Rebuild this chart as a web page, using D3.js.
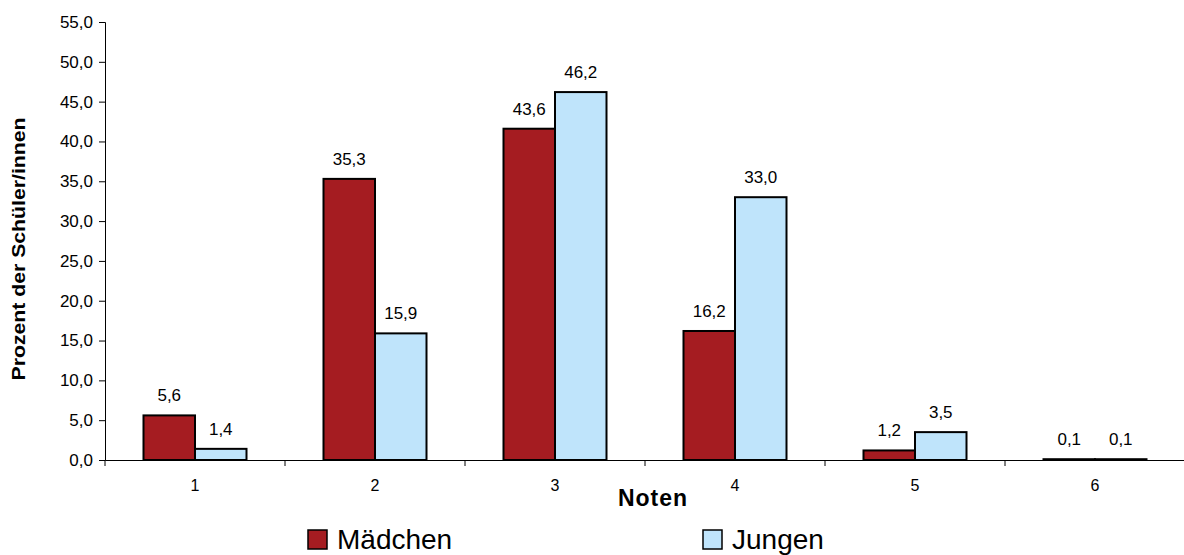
<!DOCTYPE html>
<html><head><meta charset="utf-8">
<script src="https://cdn.jsdelivr.net/npm/d3@7"></script>
<style>body{margin:0;background:#fff}svg{display:block;font-family:"Liberation Sans",Arial,sans-serif}</style>
</head><body><svg id="c" width="1184" height="555"></svg>
<script>
const categories = ["1","2","3","4","5","6"];
const madchen = [5.6, 35.3, 41.6, 16.2, 1.2, 0.1];
const madchenLabels = ["5,6","35,3","43,6","16,2","1,2","0,1"];
const jungen = [1.4, 15.9, 46.2, 33.0, 3.5, 0.1];
const jungenLabels = ["1,4","15,9","46,2","33,0","3,5","0,1"];
const yTicks = [0,5,10,15,20,25,30,35,40,45,50,55];
const seriesNames = ["Mädchen","Jungen"];
const colors = ["#A51C21","#BFE4FB"];

const svg = d3.select("#c");
const x0 = 105, x1 = 1185, yTop = 22, yBot = 460;
const x = d3.scaleBand().domain(categories).range([x0, x1]).paddingInner(0).paddingOuter(0);
const y = d3.scaleLinear().domain([0,55]).range([yBot, yTop]);
const barW = 51.5;

// y axis
const ya = svg.append("g").attr("transform",`translate(${x0},0)`)
  .call(d3.axisLeft(y).tickValues(yTicks).tickSize(6).tickPadding(6)
    .tickFormat(d => d3.format(".1f")(d).replace(".", ",")));
ya.select(".domain").attr("stroke","#000").attr("stroke-width",1);
ya.selectAll(".tick line").attr("stroke","#000");
ya.selectAll(".tick text").attr("font-size",17).attr("fill","#000").attr("font-family","Liberation Sans, Arial, sans-serif");

// x axis
const xa = svg.append("g").attr("transform",`translate(0,${yBot})`)
  .call(d3.axisBottom(x).tickSize(0).tickPadding(20));
xa.select(".domain").attr("stroke","#000").attr("stroke-width",1.2);
xa.selectAll(".tick text").attr("font-size",16).attr("fill","#000").attr("font-family","Liberation Sans, Arial, sans-serif");
// boundary ticks
svg.append("g").selectAll("line").data(categories).join("line")
  .attr("x1", d => x(d)).attr("x2", d => x(d))
  .attr("y1", yBot).attr("y2", yBot+6).attr("stroke","#000");

const series = [madchen, jungen];
const labels = [madchenLabels, jungenLabels];
series.forEach((vals, si) => {
  const g = svg.append("g");
  g.selectAll("rect").data(vals).join("rect")
    .attr("x", (d,i) => x(categories[i]) + x.bandwidth()/2 - barW + si*barW)
    .attr("y", d => y(d))
    .attr("width", barW)
    .attr("height", d => yBot - y(d))
    .attr("fill", colors[si]).attr("stroke","#000").attr("stroke-width",2);
  g.selectAll("text").data(vals).join("text")
    .attr("x", (d,i) => x(categories[i]) + x.bandwidth()/2 - barW/2 + si*barW)
    .attr("y", d => y(d) - 14)
    .attr("text-anchor","middle").attr("font-size",17).attr("fill","#000")
    .text((d,i) => labels[si][i]);
});

// axis titles
svg.append("text").attr("transform","translate(25,249) rotate(-90)")
  .attr("text-anchor","middle").attr("font-size",18).attr("font-weight","bold")
  .attr("textLength",263).attr("lengthAdjust","spacingAndGlyphs")
  .text("Prozent der Schüler/innen");
svg.append("text").attr("x",653).attr("y",506).attr("text-anchor","middle")
  .attr("font-size",23).attr("font-weight","bold")
  .attr("letter-spacing",1).text("Noten");

// legend
const legX = [308, 703];
seriesNames.forEach((n,i) => {
  svg.append("rect").attr("x",legX[i]).attr("y",530).attr("width",19).attr("height",19)
    .attr("fill",colors[i]).attr("stroke","#000").attr("stroke-width",1.5);
  svg.append("text").attr("x",legX[i]+29).attr("y",549).attr("font-size",28).attr("fill","#000").text(n);
});
</script></body></html>
